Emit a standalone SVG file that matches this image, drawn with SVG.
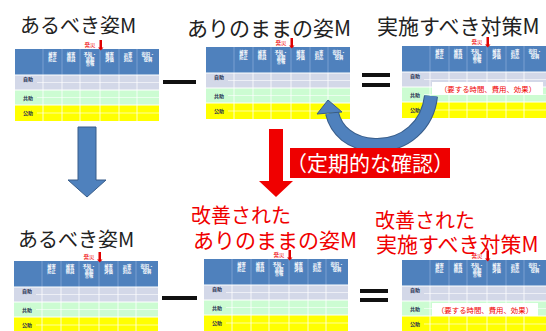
<svg xmlns="http://www.w3.org/2000/svg" xmlns:xlink="http://www.w3.org/1999/xlink" width="546" height="331" viewBox="0 0 546 331">
<style>
.ttl{font-family:"Noto Sans CJK JP","Noto Sans",sans-serif;font-size:21px;fill:#222}
.red{fill:#F00000}
.hd{font-family:"Noto Sans CJK JP",sans-serif;font-size:4.3px;fill:#fff;font-weight:bold;text-anchor:middle}
.rl{font-family:"Noto Sans CJK JP",sans-serif;font-size:5px;fill:#1F2D50;font-weight:bold}
.hs{font-family:"Noto Sans CJK JP",sans-serif;font-size:5.5px;fill:#F00000;text-anchor:middle}
.vl{stroke:#fff;stroke-width:0.8}
.hl{stroke:#fff;stroke-width:1}
.sl{stroke:#fff;stroke-width:0.6}
.note{font-family:"Noto Sans CJK JP",sans-serif;font-size:7.4px;fill:#F00000;text-anchor:middle}
.op{fill:#111}
</style>
<defs>
<g id="tbl">
<rect x="0" y="0" width="144" height="26" fill="#4F81BD"/>
<rect x="0" y="26" width="144" height="15" fill="#D3D8E8"/>
<rect x="0" y="41" width="144" height="15" fill="#CCFCD2"/>
<rect x="0" y="56" width="144" height="16" fill="#FFFF00"/>
<g stroke="#8EAEDA" stroke-width="0.7">
<line x1="28" y1="0" x2="28" y2="26"/><line x1="47" y1="0" x2="47" y2="26"/><line x1="65" y1="0" x2="65" y2="26"/>
<line x1="85" y1="0" x2="85" y2="26"/><line x1="104" y1="0" x2="104" y2="26"/><line x1="122" y1="0" x2="122" y2="26"/>
</g>
<g class="vl">
<line x1="28" y1="26" x2="28" y2="72"/><line x1="47" y1="26" x2="47" y2="72"/><line x1="65" y1="26" x2="65" y2="72"/>
<line x1="85" y1="26" x2="85" y2="72"/><line x1="104" y1="26" x2="104" y2="72"/><line x1="122" y1="26" x2="122" y2="72"/>
</g>
<g class="hl">
<line x1="0" y1="26" x2="144" y2="26"/><line x1="0" y1="41" x2="144" y2="41"/><line x1="0" y1="56" x2="144" y2="56"/>
</g>
<g class="sl">
<line x1="22" y1="33.5" x2="144" y2="33.5"/><line x1="22" y1="48.5" x2="144" y2="48.5"/><line x1="22" y1="64" x2="144" y2="64"/>
</g>
<text class="rl" x="8" y="32">自助</text>
<text class="rl" x="8" y="50.5">共助</text>
<text class="rl" x="8" y="65.5">公助</text>
<text class="hd" x="37.5" y="7">被害</text><text class="hd" x="37.5" y="11.5">防止</text>
<text class="hd" x="56" y="7">被害</text><text class="hd" x="56" y="11.5">軽減</text>
<text class="hd" x="75" y="7">予知・</text><text class="hd" x="75" y="11.5">早期</text><text class="hd" x="75" y="16">警報</text>
<text class="hd" x="94.5" y="7">被害</text><text class="hd" x="94.5" y="11.5">評価</text>
<text class="hd" x="113" y="7">災害</text><text class="hd" x="113" y="11.5">対応</text>
<text class="hd" x="133" y="7">復旧・</text><text class="hd" x="133" y="11.5">復興</text>
<text class="hs" x="75" y="-2.5">発災</text>
<rect x="84.5" y="-9" width="2.5" height="8" fill="#E00000"/>
<polygon points="83,-1.5 88.5,-1.5 85.75,1.5" fill="#E00000"/>
</g>
</defs>
<rect width="546" height="331" fill="#fff"/>

<g id="top-ideal">
<text class="ttl" x="20" y="33" font-size="20" style="font-size:20px">あるべき姿M</text>
<use xlink:href="#tbl" href="#tbl" x="15" y="49"/>
</g>
<g id="top-current">
<text class="ttl" x="187" y="36">ありのままの姿M</text>
<use xlink:href="#tbl" href="#tbl" x="206" y="47"/>
</g>
<g id="top-measures">
<text class="ttl" x="377" y="34">実施すべき対策M</text>
<use xlink:href="#tbl" href="#tbl" x="402" y="46"/>
<rect x="432" y="82" width="111" height="13" fill="#fff"/>
<text class="note" x="488" y="91.5">（要する時間、費用、効果）</text>
</g>

<g id="bottom-ideal">
<text class="ttl" x="18" y="247" style="font-size:20px">あるべき姿M</text>
<use xlink:href="#tbl" href="#tbl" x="14" y="261"/>
</g>
<g id="bottom-current">
<use xlink:href="#tbl" href="#tbl" x="204" y="259"/>
<text class="ttl red" x="191" y="223" style="font-size:20px">改善された</text>
<text class="ttl red" x="193" y="248">ありのままの姿M</text>
</g>
<g id="bottom-measures">
<use xlink:href="#tbl" href="#tbl" x="402" y="260"/>
<rect x="432" y="303" width="106" height="13" fill="#fff"/>
<text class="note" x="485" y="312.5">（要する時間、費用、効果）</text>
<text class="ttl red" x="375" y="228" style="font-size:20px">改善された</text>
<text class="ttl red" x="376" y="252">実施すべき対策M</text>
</g>

<g id="operators">
<rect class="op" x="163" y="80" width="33" height="4"/>
<rect class="op" x="362" y="73" width="28" height="4"/>
<rect class="op" x="362" y="83" width="28" height="4"/>
<rect class="op" x="162" y="296" width="35" height="4"/>
<rect class="op" x="360" y="289" width="28" height="4"/>
<rect class="op" x="360" y="298" width="28" height="4"/>
</g>

<g id="connectors">
<polygon points="78,127 96,127 96,180 106,180 87,197 68,180 78,180" fill="#4F81BD" stroke="#385D8A" stroke-width="1"/>
<polygon points="269,129 283,129 283,181 293,181 276,197 259,181 269,181" fill="#F00000"/>
<path d="M431 96 C428 125 405 146 375 145 C350 144 336 130 332 113" fill="none" stroke="#385D8A" stroke-width="14"/>
<path d="M431 96 C428 125 405 146 375 145 C350 144 336 130 332 113" fill="none" stroke="#4F81BD" stroke-width="12"/>
<polygon points="328,100 342,112 317,114" fill="#4F81BD" stroke="#385D8A" stroke-width="1"/>
<g id="check-label">
<rect x="290" y="148" width="160" height="30" fill="#EE0000"/>
<text x="370" y="171" text-anchor="middle" style="font-family:'Noto Sans CJK JP',sans-serif;font-size:21px;fill:#fff">（定期的な確認）</text>
</g>
</g>
</svg>
